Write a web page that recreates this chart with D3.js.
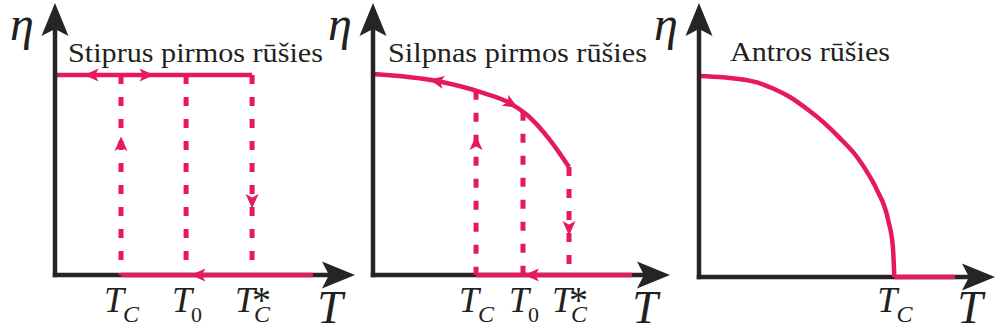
<!DOCTYPE html>
<html>
<head>
<meta charset="utf-8">
<script src="https://cdn.jsdelivr.net/npm/d3@7"></script>
<style>
  html, body { margin: 0; padding: 0; background: #fff; }
  svg { display: block; }
</style>
</head>
<body>
<svg id="chart" width="999" height="334" font-family="Liberation Serif"></svg>
<script>
// Order-parameter η versus temperature T for three kinds of phase transition.
const titles = ["Stiprus pirmos rūšies", "Silpnas pirmos rūšies", "Antros rūšies"];

// Strong first-order: η jumps between a constant value and zero.
const strongEta = 73.5;
const strongTc = 22.0, strongT0 = 43.7, strongTcStar = 65.7, strongEnd = 86.0;
const strongTopArrows = [[12.2, 180], [30.5, 0]];   // [T, direction]
const strongBottomArrows = [47.8];
const strongUpArrowEta = 48.2, strongDownArrowEta = 27.2;

// Weak first-order: η decreases smoothly, then drops at T_C*.
const weakT   = [0, 21.5, 36.0, 46.1, 51.9, 59.6, 66.0];
const weakEta = [73.9, 71.3, 67.3, 63.2, 58.8, 49.6, 39.7];
const weakTc = 34.7, weakT0 = 50.5, weakTcStar = 66.0, weakEnd = 87.2;
const weakCurveArrows = [[21.5, true], [46.5, false]];  // [T, pointing back]
const weakBottomArrows = [53.5];
const weakUpArrowEta = 48.5, weakDownArrowEta = 17.3;

// Second-order: η falls continuously to zero at T_C.
const secondT   = [0, 8.1, 19.6, 25.0, 30.7, 36.5, 41.9, 47.6, 53.4, 57.8, 60.1, 63.9, 65.5, 66.0];
const secondEta = [73.4, 72.9, 71.0, 68.8, 65.7, 61.3, 56.6, 50.7, 43.8, 36.5, 31.8, 20.8, 10.9, 0];
const secondTc = 66.0, secondEnd = 86.5;

// Tick label subscripts
const strongTickLabels = [["C", false], ["0", false], ["C", true]];
const weakTickLabels = [["C", false], ["0", false], ["C", true]];
const secondTickLabels = [["C", false]];

const RED = "#e5195b";
const INK = "#262425";
const svg = d3.select("#chart");

// panel frames: origin and axis length in px
const frames = [
  { ox: 55,  oy: 275, w: 300, titleX: 68,  titleY: 62, titleW: 255 },
  { ox: 373, oy: 275, w: 297, titleX: 388, titleY: 62, titleW: 259 },
  { ox: 699, oy: 277, w: 296, titleX: 730, titleY: 61, titleW: 160 }
];

const axisHead = "M0,0 L-33,-13.5 L-26,0 L-33,13.5 Z";
const redHead = "M7.5,0 L-7,-6.5 L-3.5,0 L-7,6.5 Z";

function txt(g) {
  return g.append("text").attr("font-family", "Liberation Serif").attr("fill", "#231f20");
}

function makeScales(f) {
  return {
    x: d3.scaleLinear().domain([0, 100]).range([f.ox, f.ox + f.w]),
    y: d3.scaleLinear().domain([0, 100]).range([f.oy, 3])
  };
}

function drawXAxis(g, s) {
  const x0 = s.x(0), y0 = s.y(0), tip = s.x(100);
  g.append("line").attr("x1", x0 - 2.25).attr("x2", tip - 26)
    .attr("y1", y0).attr("y2", y0)
    .attr("stroke", INK).attr("stroke-width", 4.5);
  g.append("path").attr("d", axisHead)
    .attr("transform", `translate(${tip},${y0})`).attr("fill", INK);
}

function drawYAxis(g, s) {
  const x0 = s.x(0), y0 = s.y(0), tip = s.y(100);
  g.append("line").attr("x1", x0).attr("x2", x0)
    .attr("y1", y0 + 2.25).attr("y2", tip + 26)
    .attr("stroke", INK).attr("stroke-width", 4.5);
  g.append("path").attr("d", axisHead)
    .attr("transform", `translate(${x0},${tip}) rotate(-90)`).attr("fill", INK);
}

function axisLabels(g, s, f) {
  txt(g).attr("x", s.x(0) - 33).attr("y", 40)
    .attr("text-anchor", "middle").attr("font-style", "italic")
    .attr("font-size", 48).text("η");
  txt(g).attr("x", s.x(100) - 25).attr("y", 323)
    .attr("text-anchor", "middle").attr("font-style", "italic")
    .attr("font-size", 46).text("T");
  txt(g).attr("x", f.titleX).attr("y", f.titleY)
    .attr("textLength", f.titleW).attr("lengthAdjust", "spacingAndGlyphs")
    .attr("font-size", 28).text(f.title);
}

function redLine(g, pts, s) {
  g.append("path")
    .attr("d", d3.line().x(d => s.x(d[0])).y(d => s.y(d[1]))(pts))
    .attr("fill", "none").attr("stroke", RED).attr("stroke-width", 4.5);
}

function dashed(g, s, T, topEta) {
  g.append("line").attr("x1", s.x(T)).attr("x2", s.x(T))
    .attr("y1", s.y(topEta)).attr("y2", s.y(0))
    .attr("stroke", RED).attr("stroke-width", 5)
    .attr("stroke-dasharray", "9,13");
}

function arrow(g, px, py, angle) {
  g.append("path").attr("d", redHead)
    .attr("transform", `translate(${px},${py}) rotate(${angle})`)
    .attr("fill", RED);
}

function tickLabel(g, cx, [sub, star]) {
  const lg = g.append("g");
  const t = txt(lg).attr("x", 0).attr("y", 0)
    .attr("font-style", "italic").attr("font-size", 36).text("T");
  const subX = t.node().getComputedTextLength() - 1;
  const digit = /\d/.test(sub);
  txt(lg).attr("x", subX).attr("y", 10)
    .attr("font-style", digit ? "normal" : "italic")
    .attr("font-size", digit ? 22 : 24).text(sub);
  if (star) {
    txt(lg).attr("x", subX - 2).attr("y", 1)
      .attr("font-size", 38).text("*");
  }
  const bb = lg.node().getBBox();
  lg.attr("transform", `translate(${cx - (bb.x + bb.width / 2) + 1},312)`);
}

// locate the point of a drawn path at a given screen x
function pointAtX(pathNode, px) {
  const L = pathNode.getTotalLength();
  let lo = 0, hi = L;
  for (let i = 0; i < 40; i++) {
    const mid = (lo + hi) / 2;
    if (pathNode.getPointAtLength(mid).x < px) lo = mid; else hi = mid;
  }
  const len = (lo + hi) / 2;
  const p = pathNode.getPointAtLength(len);
  const a = pathNode.getPointAtLength(Math.max(0, len - 2));
  const b = pathNode.getPointAtLength(Math.min(L, len + 2));
  return { x: p.x, y: p.y, angle: Math.atan2(b.y - a.y, b.x - a.x) * 180 / Math.PI };
}

frames.forEach((f, i) => { f.title = titles[i]; });

// ---- Panel 1: strong first-order ----
(function () {
  const f = frames[0], s = makeScales(f), g = svg.append("g");
  drawXAxis(g, s);
  [strongTc, strongT0, strongTcStar].forEach(T => dashed(g, s, T, strongEta));
  redLine(g, [[0, strongEta], [strongTcStar, strongEta]], s);
  redLine(g, [[strongTc, 0], [strongEnd, 0]], s);
  strongTopArrows.forEach(([T, dir]) => arrow(g, s.x(T), s.y(strongEta), dir));
  strongBottomArrows.forEach(T => arrow(g, s.x(T), s.y(0), 180));
  arrow(g, s.x(strongTc), s.y(strongUpArrowEta), -90);
  arrow(g, s.x(strongTcStar), s.y(strongDownArrowEta), 90);
  drawYAxis(g, s);
  [strongTc, strongT0, strongTcStar].forEach((T, k) => tickLabel(g, s.x(T), strongTickLabels[k]));
  axisLabels(g, s, f);
})();

// ---- Panel 2: weak first-order ----
(function () {
  const f = frames[1], s = makeScales(f), g = svg.append("g");
  drawXAxis(g, s);
  const pts = weakT.map((t, k) => [t, weakEta[k]]);
  const curveLine = d3.line().x(d => s.x(d[0])).y(d => s.y(d[1])).curve(d3.curveMonotoneX);
  const measure = g.append("path").attr("d", curveLine(pts)).attr("fill", "none");
  const etaAt = T => s.y.invert(pointAtX(measure.node(), s.x(T)).y);
  measure.remove();
  [weakTc, weakT0].forEach(T => dashed(g, s, T, etaAt(T)));
  dashed(g, s, weakTcStar, weakEta[weakEta.length - 1]);
  const curve = g.append("path").attr("d", curveLine(pts))
    .attr("fill", "none").attr("stroke", RED).attr("stroke-width", 4.5);
  redLine(g, [[weakTc, 0], [weakEnd, 0]], s);
  weakCurveArrows.forEach(([T, back]) => {
    const p = pointAtX(curve.node(), s.x(T));
    arrow(g, p.x, p.y, back ? p.angle + 180 : p.angle);
  });
  weakBottomArrows.forEach(T => arrow(g, s.x(T), s.y(0), 180));
  arrow(g, s.x(weakTc), s.y(weakUpArrowEta), -90);
  arrow(g, s.x(weakTcStar), s.y(weakDownArrowEta), 90);
  drawYAxis(g, s);
  [weakTc, weakT0, weakTcStar].forEach((T, k) => tickLabel(g, s.x(T), weakTickLabels[k]));
  axisLabels(g, s, f);
})();

// ---- Panel 3: second-order ----
(function () {
  const f = frames[2], s = makeScales(f), g = svg.append("g");
  drawXAxis(g, s);
  const pts = secondT.map((t, k) => [t, secondEta[k]]);
  g.append("path")
    .attr("d", d3.line().x(d => s.x(d[0])).y(d => s.y(d[1])).curve(d3.curveMonotoneX)(pts))
    .attr("fill", "none").attr("stroke", RED).attr("stroke-width", 4.5);
  redLine(g, [[secondTc, 0], [secondEnd, 0]], s);
  drawYAxis(g, s);
  tickLabel(g, s.x(secondTc), secondTickLabels[0]);
  axisLabels(g, s, f);
})();
</script>
</body>
</html>
